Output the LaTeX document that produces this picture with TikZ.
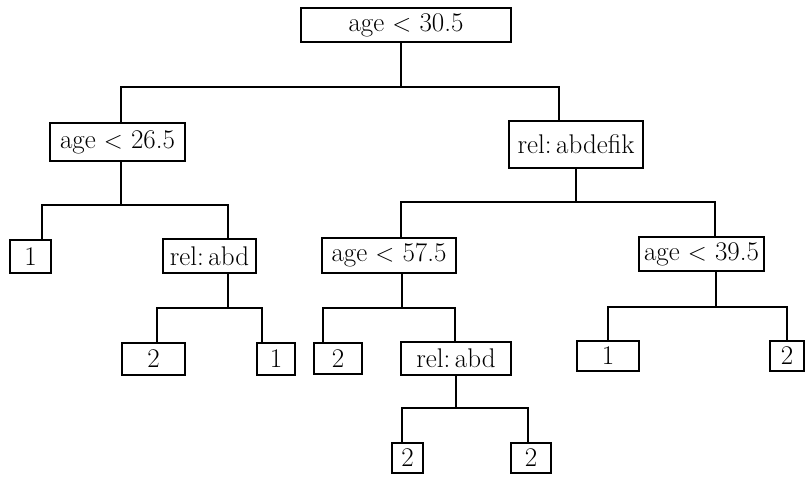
\documentclass[tikz,border=0pt]{standalone}
\usepackage{tikz}
\begin{document}
\begin{tikzpicture}[x=1pt, y=-1pt,
  box/.style={draw, line width=1.4pt, inner sep=0pt, font=\fontsize{27}{31}\selectfont},
  link/.style={line width=1.5pt}]
\useasboundingbox (0,0) rectangle (806,480);

% decision and leaf boxes
\node[box, minimum width=210, minimum height=34] (root) at (406,25)    {age $<$ 30.5};
\node[box, minimum width=135, minimum height=38] (a265) at (117.5,142) {age $<$ 26.5};
\node[box, minimum width=134, minimum height=47] (rdef) at (576,144.5) {rel:\,abdefik};
\node[box, minimum width=41,  minimum height=33] (lfA)  at (30.5,256.5) {1};
\node[box, minimum width=93,  minimum height=34] (relL) at (209.5,256) {rel:\,abd};
\node[box, minimum width=134, minimum height=35] (a575) at (389,255.5) {age $<$ 57.5};
\node[box, minimum width=125, minimum height=34] (a395) at (701.5,254) {age $<$ 39.5};
\node[box, minimum width=63,  minimum height=32] (lfB)  at (153.5,359) {2};
\node[box, minimum width=38,  minimum height=32] (lfC)  at (276,359)   {1};
\node[box, minimum width=48,  minimum height=31] (lfD)  at (338,358.5) {2};
\node[box, minimum width=110, minimum height=33] (relM) at (456,358.5) {rel:\,abd};
\node[box, minimum width=62,  minimum height=30] (lfE)  at (608,356)   {1};
\node[box, minimum width=34,  minimum height=30] (lfF)  at (787,356)   {2};
\node[box, minimum width=31,  minimum height=30] (lfG)  at (407.5,458) {2};
\node[box, minimum width=40,  minimum height=30] (lfH)  at (531,458)   {2};

% branch points: stem foot, left end, right end of each bar
\coordinate (s0) at (401,87);  \coordinate (l0) at (121,87);  \coordinate (r0) at (559,87);
\coordinate (s1) at (121,205); \coordinate (l1) at (42,205);  \coordinate (r1) at (228,205);
\coordinate (s2) at (576,202); \coordinate (l2) at (401,202); \coordinate (r2) at (715,202);
\coordinate (s3) at (228,308); \coordinate (l3) at (157,308); \coordinate (r3) at (262,308);
\coordinate (s4) at (402,308); \coordinate (l4) at (323,308); \coordinate (r4) at (455,308);
\coordinate (s5) at (716,307); \coordinate (l5) at (608,307); \coordinate (r5) at (787,307);
\coordinate (s6) at (456,408); \coordinate (l6) at (402,408); \coordinate (r6) at (528,408);

% connectors
\draw[link] (root.south -| s0) -- (s0);
\draw[link] (a265.north -| l0) |- (r0) -- (rdef.north -| r0);
\draw[link] (a265.south -| s1) -- (s1);
\draw[link] (lfA.north -| l1) |- (r1) -- (relL.north -| r1);
\draw[link] (rdef.south -| s2) -- (s2);
\draw[link] (a575.north -| l2) |- (r2) -- (a395.north -| r2);
\draw[link] (relL.south -| s3) -- (s3);
\draw[link] (lfB.north -| l3) |- (r3) -- (lfC.north -| r3);
\draw[link] (a575.south -| s4) -- (s4);
\draw[link] (lfD.north -| l4) |- (r4) -- (relM.north -| r4);
\draw[link] (a395.south -| s5) -- (s5);
\draw[link] (lfE.north -| l5) |- (r5) -- (lfF.north -| r5);
\draw[link] (relM.south -| s6) -- (s6);
\draw[link] (lfG.north -| l6) |- (r6) -- (lfH.north -| r6);
\end{tikzpicture}
\end{document}
